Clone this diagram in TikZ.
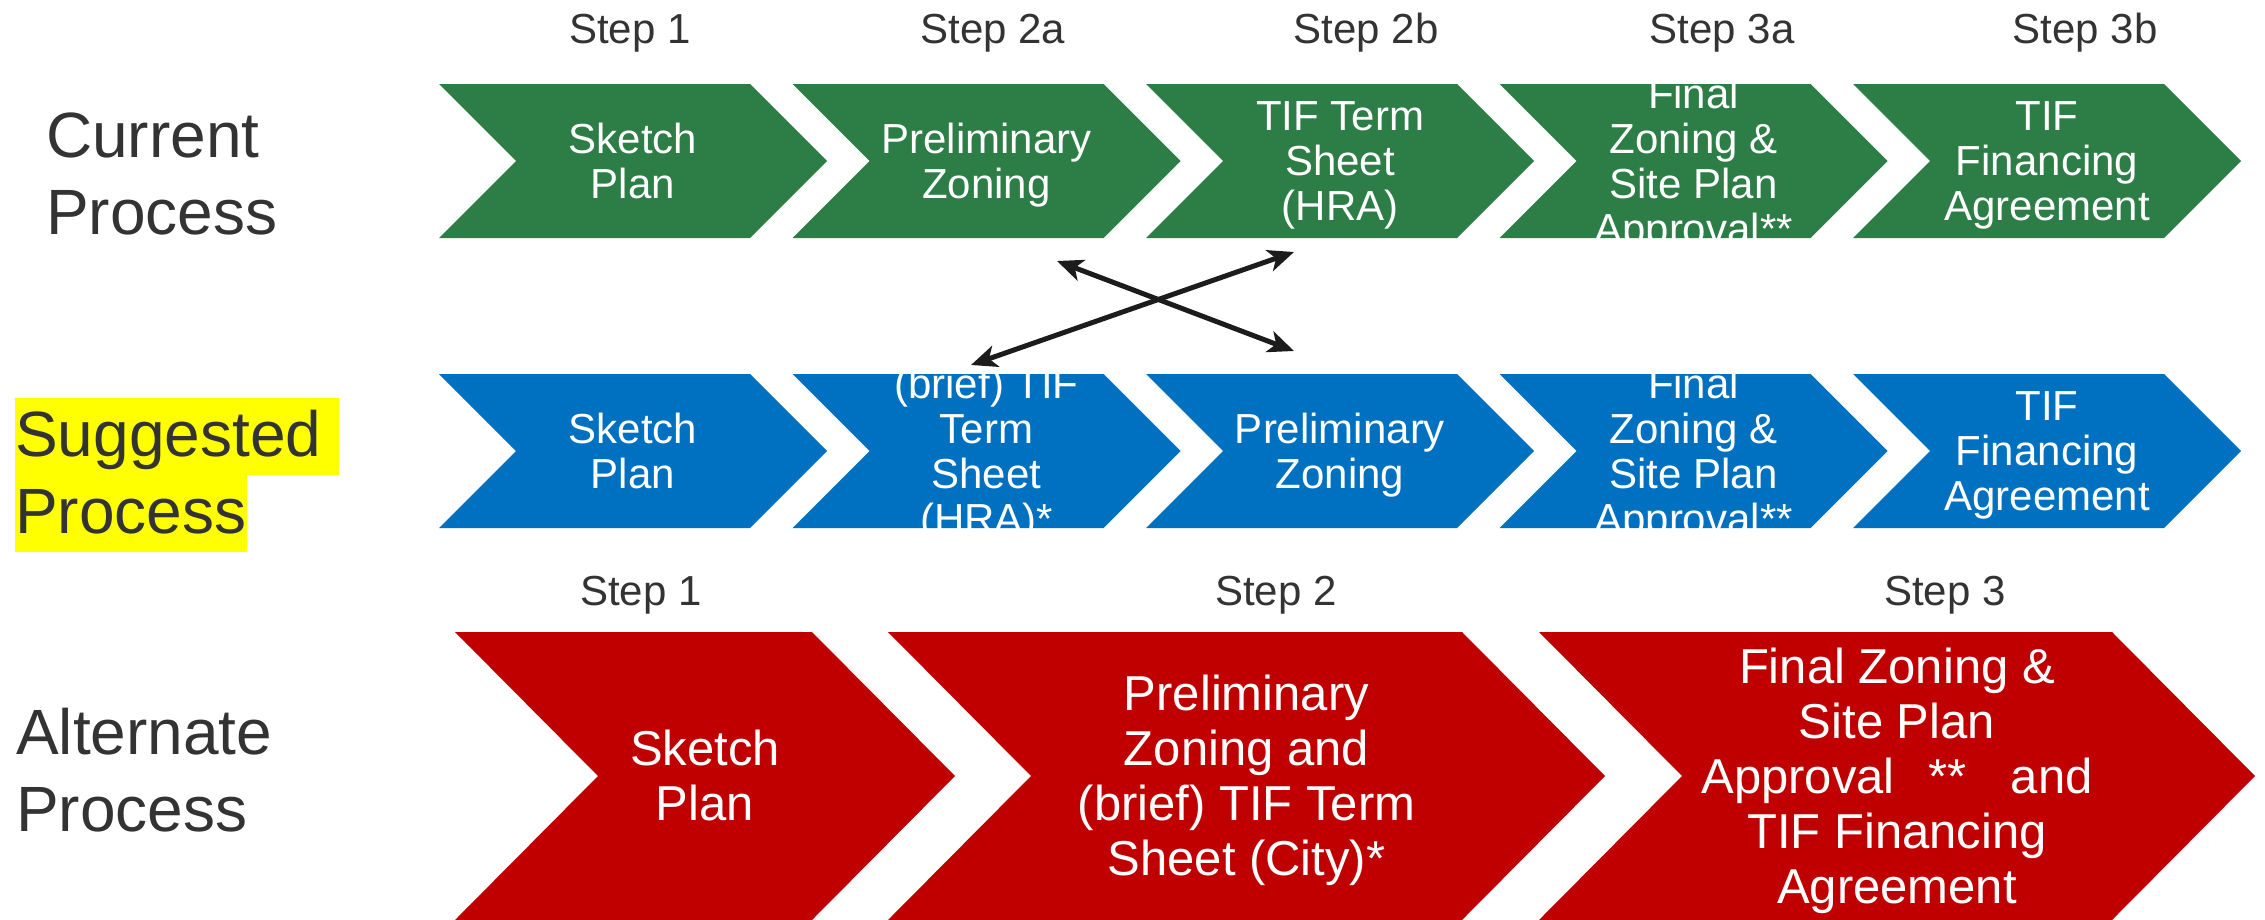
\documentclass[tikz,border=0pt]{standalone}
\usepackage{fontspec}
\setmainfont{Liberation Sans}
\usetikzlibrary{arrows.meta}
\definecolor{cgreen}{RGB}{44,125,70}
\definecolor{cblue}{RGB}{0,112,192}
\definecolor{cred}{RGB}{192,0,0}
\definecolor{clabel}{RGB}{51,51,51}
\definecolor{carrow}{RGB}{28,28,28}
\definecolor{chl}{RGB}{255,255,0}
\newcommand\tstrut{\rule{0pt}{0.905em}}
\newcommand\bstrut{\rule[-0.212em]{0pt}{0.212em}}
% chevron: colour, left x, top y, body width, point depth, height
\newcommand\mychev[6]{\fill[#1] (#2,#3) -- ++(#4,0) -- ++(#5,#6/2) -- ++(-#5,#6/2) -- ++(-#4,0) -- ++(#5,-#6/2) -- cycle;}
\begin{document}
\begin{tikzpicture}[x=1pt,y=-1pt,
  ctext/.style={text=white, align=center, inner sep=0pt, font=\fontsize{42}{45}\selectfont, execute at begin node=\tstrut, execute at end node=\bstrut},
  rtext/.style={ctext, font=\fontsize{49}{55}\selectfont},
  steplbl/.style={text=clabel, inner sep=0pt, anchor=base, font=\fontsize{42}{50}\selectfont},
  rowlbl/.style={text=clabel, align=left, inner sep=0pt, anchor=west, font=\fontsize{64}{77}\selectfont, execute at begin node=\tstrut, execute at end node=\bstrut},
  dbl/.style={draw=carrow, line width=5pt, {Stealth[length=26pt,width=22pt,inset=7pt]}-{Stealth[length=26pt,width=22pt,inset=7pt]}}
]
\useasboundingbox (0,0) rectangle (2265,919);

% ---- row labels ----
\fill[chl] (15,398) rectangle (339,475);
\fill[chl] (15,475) rectangle (247,552);
\node[rowlbl] (lcur) at (46,180.5) {Current\\Process};
\node[rowlbl] (lsug) at (15,479) {Suggested\\Process};
\node[rowlbl] (lalt) at (16,777) {Alternate\\Process};

% ---- step labels ----
\node[steplbl] (s1)  at (630,43)  {Step 1};
\node[steplbl] (s2a) at (993,43)  {Step 2a};
\node[steplbl] (s2b) at (1366,43) {Step 2b};
\node[steplbl] (s3a) at (1722,43) {Step 3a};
\node[steplbl] (s3b) at (2085,43) {Step 3b};
\node[steplbl] (t1) at (641,605)  {Step 1};
\node[steplbl] (t2) at (1276,605) {Step 2};
\node[steplbl] (t3) at (1945,605) {Step 3};

% ---- current process (green) ----
\mychev{cgreen}{439}{84}{311}{77}{154}
\mychev{cgreen}{792.5}{84}{311}{77}{154}
\mychev{cgreen}{1146}{84}{311}{77}{154}
\mychev{cgreen}{1499.5}{84}{311}{77}{154}
\mychev{cgreen}{1853}{84}{311}{77}{154}
\node[ctext] (g1) at (633,165)    {Sketch\\Plan};
\node[ctext] (g2) at (986.5,165)  {Preliminary\\Zoning};
\node[ctext] (g3) at (1340,165)   {TIF Term\\Sheet\\(HRA)};
\node[ctext] (g4) at (1693.5,165) {Final\\Zoning \&\\Site Plan\\Approval**};
\node[ctext] (g5) at (2047,165)   {TIF\\Financing\\Agreement};

% ---- suggested process (blue) ----
\mychev{cblue}{439}{374}{311}{77}{154}
\mychev{cblue}{792.5}{374}{311}{77}{154}
\mychev{cblue}{1146}{374}{311}{77}{154}
\mychev{cblue}{1499.5}{374}{311}{77}{154}
\mychev{cblue}{1853}{374}{311}{77}{154}
\node[ctext] (b1) at (633,455)    {Sketch\\Plan};
\node[ctext] (b2) at (986.5,455)  {(brief) TIF\\Term\\Sheet\\(HRA)*};
\node[ctext] (b3) at (1340,455)   {Preliminary\\Zoning};
\node[ctext] (b4) at (1693.5,455) {Final\\Zoning \&\\Site Plan\\Approval**};
\node[ctext] (b5) at (2047,455)   {TIF\\Financing\\Agreement};

% ---- alternate process (red) ----
\mychev{cred}{455}{632}{357}{143}{288}
\mychev{cred}{888}{632}{574}{143}{288}
\mychev{cred}{1539}{632}{573}{143}{288}
\node[rtext] (r1) at (705,780)    {Sketch\\Plan};
\node[rtext] (r2) at (1246.5,780) {Preliminary\\Zoning and\\(brief) TIF Term\\Sheet (City)*};
\node[rtext] (r3) at (1897,781)   {Final Zoning \&\\Site Plan\\Approval\hspace{34pt}**\hspace{44pt}and\\TIF Financing\\Agreement};

% ---- swap arrows ----
\coordinate (a1s) at (1057,261);
\coordinate (a1e) at (1294,351);
\coordinate (a2s) at (971,365);
\coordinate (a2e) at (1294,252);
\draw[dbl] (a1s) -- (a1e);
\draw[dbl] (a2s) -- (a2e);
\end{tikzpicture}
\end{document}
